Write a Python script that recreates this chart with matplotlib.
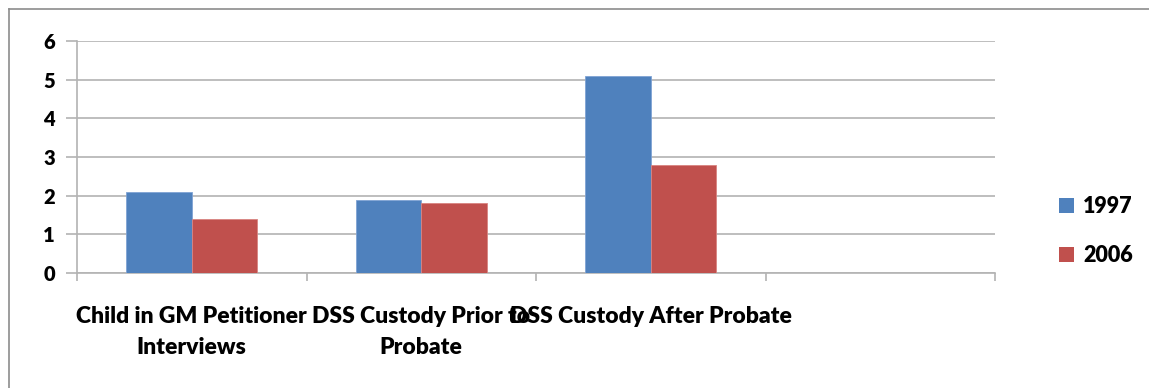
#!/usr/bin/env python3

import numpy as np
import matplotlib.pyplot as plt
from matplotlib.lines import Line2D

categories = ['Child in GM Petitioner\nInterviews',
              'DSS Custody Prior to\nProbate',
              'DSS Custody After Probate',
              '']
years = ['1997', '2006']
values_1997 = [2.1, 1.9, 5.1, np.nan]
values_2006 = [1.4, 1.8, 2.8, np.nan]
y_ticks = [0, 1, 2, 3, 4, 5, 6]

BLUE = '#4f81bd'
RED = '#c0504d'
GRID = '#b3b3b3'
WEIGHT = 'heavy'


def main():
    plt.rcParams['font.family'] = ['Lato', 'DejaVu Sans']
    fig = plt.figure(figsize=(11.49, 3.88), dpi=100)
    ax = fig.add_axes([77 / 1149, 115 / 388, 918 / 1149, 232 / 388])

    # outer chart frame: only the top and left edges show
    fig.add_artist(Line2D([9 / 1149, 9 / 1149], [0, 379 / 388],
                          transform=fig.transFigure, color='#8c8c8c', lw=1.2))
    fig.add_artist(Line2D([9 / 1149, 1], [379 / 388, 379 / 388],
                          transform=fig.transFigure, color='#8c8c8c', lw=1.2))

    x = np.arange(len(categories))
    width = 1 / 3.5
    ax.bar(x - width / 2, values_1997, width, color=BLUE,
           edgecolor='#7fa3d4', linewidth=0.6, label=years[0], zorder=3)
    ax.bar(x + width / 2, values_2006, width, color=RED,
           edgecolor='#d98481', linewidth=0.6, label=years[1], zorder=3)

    ax.set_xlim(-0.5, len(categories) - 0.5)
    ax.set_ylim(0, 6)
    ax.set_yticks(y_ticks)
    ax.yaxis.grid(True, color=GRID, lw=1.2, zorder=0)
    ax.tick_params(axis='y', length=8, color=GRID, width=1.2,
                   labelsize=14.5, pad=8)
    for lab in ax.get_yticklabels():
        lab.set_fontweight(WEIGHT)

    # category boundaries carry the tick marks, labels sit at the centres
    ax.set_xticks(np.arange(len(categories) + 1) - 0.5)
    ax.set_xticklabels([])
    ax.tick_params(axis='x', length=6, color=GRID, width=1.2)
    for xi, name in zip(x, categories):
        ax.annotate(name, (xi, 0), xycoords=('data', 'axes fraction'),
                    xytext=(0, -24), textcoords='offset points',
                    ha='center', va='top', fontsize=16.5,
                    fontweight=WEIGHT, linespacing=1.55)

    for side in ['top', 'right']:
        ax.spines[side].set_visible(False)
    ax.spines['left'].set_color(GRID)
    ax.spines['left'].set_linewidth(1.2)
    ax.spines['bottom'].set_color(GRID)
    ax.spines['bottom'].set_linewidth(1.2)

    leg = fig.legend(loc='center left', bbox_to_anchor=(1040 / 1149, 0.405),
                     frameon=False, handlelength=0.7, handleheight=0.7,
                     handletextpad=0.4, labelspacing=1.3,
                     prop={'weight': WEIGHT, 'size': 15.5})
    for h in leg.legend_handles:
        h.set_linewidth(0)

    fig.savefig('out.png', dpi=100)


if __name__ == '__main__':
    main()
